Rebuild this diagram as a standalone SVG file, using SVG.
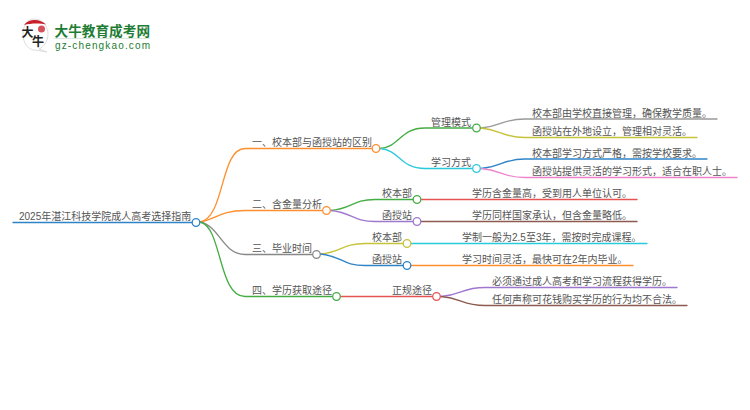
<svg xmlns="http://www.w3.org/2000/svg" width="750" height="410" viewBox="0 0 750 410">
<style>
text{font-family:"Liberation Sans","Noto Sans CJK SC",sans-serif;font-size:10px;fill:#555}
.c{fill:none;stroke-width:1.3;stroke-linecap:round}
.n{fill:#fff;stroke-width:1.3}
.lg{fill:#1e7d34;font-weight:700;font-family:"Noto Sans CJK SC",sans-serif;font-size:13.6px}
</style>
<rect width="750" height="410" fill="#fff"/>
<g id="logo">
<path d="M34 19C42 19 48 26 48 34C48 41 44 47 39 49L47 52L35 50C28 50 23 43 23 34C23 26 27 19 34 19Z" fill="#fff" stroke="#ddd" stroke-width="1"/>
<path d="M24 25C27 21 31 20 35 20C39 20 43 21.500 46 24.500C40 23 31 23 24 25Z" fill="#c8202a"/>
<circle cx="41.500" cy="29" r="3.500" fill="#d4505a"/>
<text x="21.500" y="37" style="font-size:12px;font-weight:700;fill:#222;font-family:'Noto Sans CJK SC',sans-serif">大</text>
<text x="32" y="46" style="font-size:12px;font-weight:700;fill:#222;font-family:'Noto Sans CJK SC',sans-serif">牛</text>
<text class="lg" x="54.500" y="35.500" textLength="95.500">大牛教育成考网</text>
<rect x="54.500" y="38" width="95.500" height="1" fill="#dbe8dd"/>
<text x="55" y="49" textLength="95" style="font-size:10px;fill:#1e7d34;font-family:'Liberation Sans',sans-serif">gz-chengkao.com</text>
</g>
<g id="connectors">
<path class="c" stroke="#2f84c6" d="M13 222.500H192"/>
<path class="c" stroke="#ff8f2e" d="M200 222C225 218 220 148.500 245 148.500H372"/>
<path class="c" stroke="#ff8f2e" d="M200 222C215 220 220 210.500 245 210.500H322"/>
<path class="c" stroke="#888" d="M200 222C220 226 222 254 245 254.500H312"/>
<path class="c" stroke="#44ad44" d="M200 222C222 226 218 296.500 245 296.500H332"/>
<path class="c" stroke="#44ad44" d="M380 148.500C400 147 400 128 425 128H472"/>
<path class="c" stroke="#2ac9dc" d="M380 148.500C400 150 400 168.500 425 168.500H472"/>
<path class="c" stroke="#999" d="M481 128C502 126 502 119 525 119H717"/>
<path class="c" stroke="#c6c33a" d="M481 128C502 130 502 137.500 525 137.500H697"/>
<path class="c" stroke="#2f84c6" d="M481 168.500C502 167 502 159 525 159H707"/>
<path class="c" stroke="#ee82cc" d="M481 168.500C502 170 502 177.500 525 177.500H737"/>
<path class="c" stroke="#44ad44" d="M330 210.500C352 209 352 199.500 375 199.500H413"/>
<path class="c" stroke="#a077d0" d="M330 210.500C352 212 352 221.500 375 221.500H413"/>
<path class="c" stroke="#e65353" d="M421 199.500H637"/>
<path class="c" stroke="#8d5a50" d="M421 221.500H637"/>
<path class="c" stroke="#c6c33a" d="M320.500 254C342 252 342 243.500 365 243.500H403"/>
<path class="c" stroke="#2f84c6" d="M320.500 254C342 256 342 265.500 365 265.500H403"/>
<path class="c" stroke="#2ac9dc" d="M411 243.500H647"/>
<path class="c" stroke="#ff8f2e" d="M411 265.500H633"/>
<path class="c" stroke="#e65353" d="M340 296.500H432"/>
<path class="c" stroke="#a077d0" d="M441 296.500C462 295 462 287.500 485 287.500H677"/>
<path class="c" stroke="#8d5a50" d="M441 296.500C462 298 462 305.500 485 305.500H687"/>
</g>
<g id="root"><text x="19" y="220">2025年湛江科技学院成人高考选择指南</text><circle class="n" cx="196" cy="222.500" r="3.800" stroke="#2f84c6"/></g>
<g id="b1"><text x="252" y="146">一、校本部与函授站的区别</text><circle class="n" cx="376" cy="148.500" r="3.800" stroke="#ff8f2e"/></g>
<g id="b2"><text x="252" y="208">二、含金量分析</text><circle class="n" cx="326.500" cy="210.500" r="3.800" stroke="#ff8f2e"/></g>
<g id="b3"><text x="252" y="251.500">三、毕业时间</text><circle class="n" cx="316.500" cy="254.500" r="3.800" stroke="#888"/></g>
<g id="b4"><text x="252" y="294">四、学历获取途径</text><circle class="n" cx="336.500" cy="296.500" r="3.800" stroke="#44ad44"/></g>
<g id="n11"><text x="431" y="126">管理模式</text><circle class="n" cx="476.500" cy="128" r="3.800" stroke="#44ad44"/></g>
<g id="n12"><text x="431" y="166">学习方式</text><circle class="n" cx="476.500" cy="168.500" r="3.800" stroke="#2ac9dc"/></g>
<g id="l111"><text x="532" y="117">校本部由学校直接管理&#xFF0C;确保教学质量。</text></g>
<g id="l112"><text x="532" y="135">函授站在外地设立&#xFF0C;管理相对灵活。</text></g>
<g id="l121"><text x="532" y="157">校本部学习方式严格&#xFF0C;需按学校要求。</text></g>
<g id="l122"><text x="532" y="175">函授站提供灵活的学习形式&#xFF0C;适合在职人士。</text></g>
<g id="n21"><text x="382" y="197">校本部</text><circle class="n" cx="417" cy="199.500" r="3.800" stroke="#44ad44"/></g>
<g id="n22"><text x="382" y="219">函授站</text><circle class="n" cx="417" cy="221.500" r="3.800" stroke="#a077d0"/></g>
<g id="l21"><text x="472" y="197">学历含金量高&#xFF0C;受到用人单位认可。</text></g>
<g id="l22"><text x="472" y="219">学历同样国家承认&#xFF0C;但含金量略低。</text></g>
<g id="n31"><text x="372" y="241">校本部</text><circle class="n" cx="407" cy="243.500" r="3.800" stroke="#c6c33a"/></g>
<g id="n32"><text x="372" y="263">函授站</text><circle class="n" cx="407" cy="265.500" r="3.800" stroke="#2f84c6"/></g>
<g id="l31"><text x="462" y="241">学制一般为2.5至3年&#xFF0C;需按时完成课程。</text></g>
<g id="l32"><text x="462" y="263">学习时间灵活&#xFF0C;最快可在2年内毕业。</text></g>
<g id="n41"><text x="392" y="294">正规途径</text><circle class="n" cx="436.500" cy="296.500" r="3.800" stroke="#e65353"/></g>
<g id="l41"><text x="492" y="285">必须通过成人高考和学习流程获得学历。</text></g>
<g id="l42"><text x="492" y="303">任何声称可花钱购买学历的行为均不合法。</text></g>
</svg>
